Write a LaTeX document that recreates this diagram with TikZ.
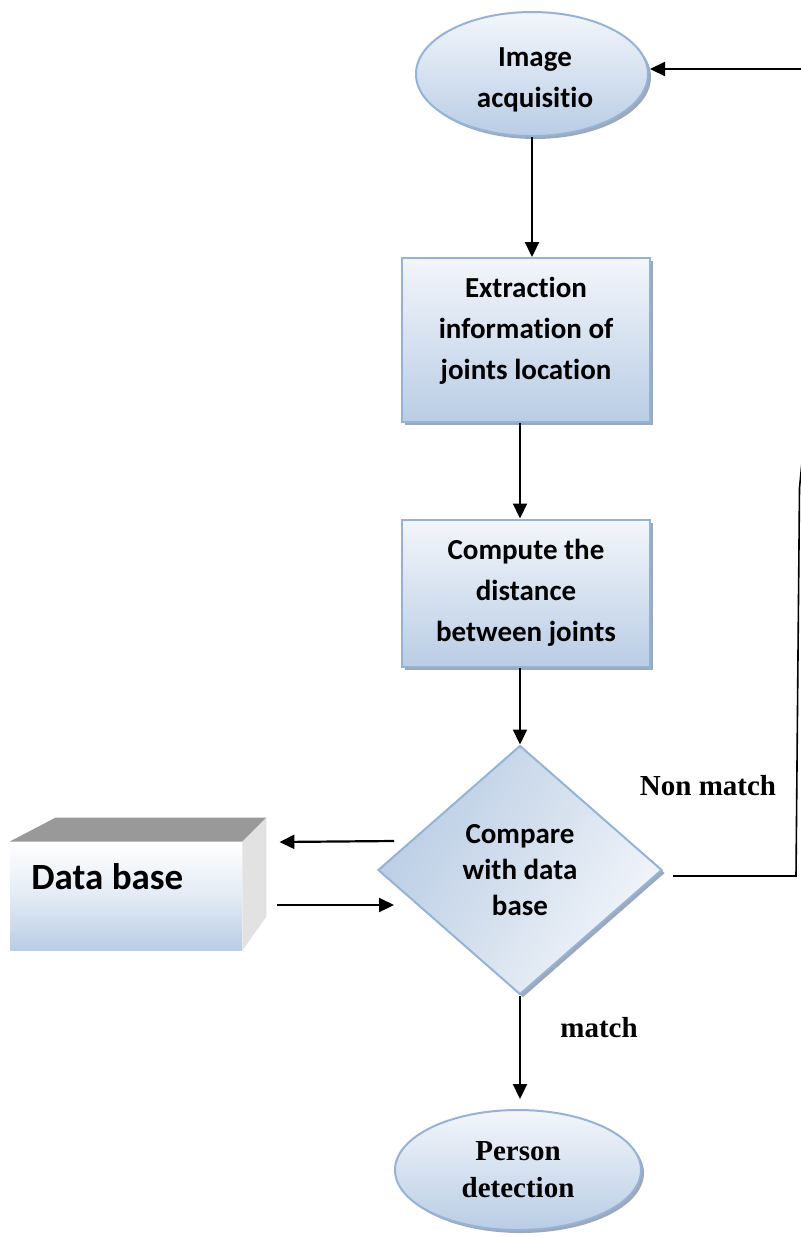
\documentclass[tikz,border=0pt]{standalone}
\usepackage{fontspec}
\newfontfamily\calfont[Ligatures={NoCommon,NoRequired,NoContextual}]{Carlito}
\newfontfamily\tmsfont{Liberation Serif}
\usetikzlibrary{shapes.geometric,shadows,arrows.meta,calc}
\definecolor{edgeblue}{HTML}{95B3D7}
\definecolor{lightfill}{HTML}{F3F6FB}
\definecolor{darkfill}{HTML}{B9CDE5}
\definecolor{midfill}{HTML}{D5E0EE}
\definecolor{shadowc}{HTML}{8C9AAE}
\definecolor{topgray}{HTML}{999999}
\definecolor{sidegray}{HTML}{E2E2E2}
\begin{document}
\begin{tikzpicture}[x=0.5pt,y=-0.5pt,
  shapebase/.style={draw=edgeblue, line width=1pt, top color=lightfill, bottom color=darkfill,
    drop shadow={shadow xshift=1.5pt, shadow yshift=-1.5pt, fill=shadowc, opacity=0.85}},
  ovalbox/.style={shapebase, ellipse, inner sep=0pt},
  procbox/.style={shapebase, rectangle, inner sep=0pt},
  decbox/.style={shapebase, diamond, inner sep=0pt, left color=darkfill, right color=lightfill, middle color=midfill, shading angle=60},
  boxtext/.style={font=\calfont\bfseries\fontsize{14.5}{20.5}\selectfont, align=center, inner sep=0pt},
  serifbold/.style={font=\tmsfont\bfseries\fontsize{14.5}{18.5}\selectfont, align=center, inner sep=0pt},
  arr/.style={-{Triangle[length=7.5pt,width=7pt]}, line width=1.1pt},
  thinline/.style={line width=0.8pt}
]
\fill[white] (0,0) rectangle (800,1237);
\useasboundingbox (0,0) rectangle (800,1237);

% shapes
\node[ovalbox, minimum width=116pt, minimum height=62pt] (acq) at (532,74) {};
\node[boxtext] (acqt) at (535,80) {Image\\acquisitio};

\node[procbox, minimum width=124pt, minimum height=82pt] (ext) at (526,340) {};
\node[boxtext] (extt) at (526,331) {Extraction\\information of\\joints location};

\node[procbox, boxtext, minimum width=124pt, minimum height=73.5pt] (dist) at (526,593) {Compute the\\distance\\between joints};

\node[decbox, boxtext, font=\calfont\bfseries\fontsize{14.5}{18}\selectfont, minimum width=142pt, minimum height=124.5pt] (cmp) at (520,870) {Compare\\with data\\base};

\node[ovalbox, serifbold, minimum width=123pt, minimum height=60pt] (pd) at (518,1170) {Person\\detection};

% database box
\node[rectangle, inner sep=0pt, minimum width=116pt, minimum height=54pt,
      top color=white, bottom color=darkfill, middle color=white!60!darkfill] (db) at (126,896) {};
\fill[topgray] (db.north west) -- ++(46,-24) -- ($(db.north east)+(24,-24)$) -- (db.north east) -- cycle;
\fill[sidegray] (db.north east) -- ++(24,-24) -- ++(0,99) -- (db.south east) -- cycle;
\node[anchor=west, inner sep=0pt, font=\calfont\bfseries\fontsize{18.5}{22}\selectfont] (dbt) at (31,877) {Data base};

% connectors
\draw[arr] (acq.south) -- (acq.south |- ext.north);
\draw[arr] (ext.south -| cmp.north) -- (dist.north -| cmp.north);
\draw[arr] (dist.south -| cmp.north) -- (cmp.north);
\draw[arr, shorten >=5pt] (cmp.south) -- (cmp.south |- pd.north);

\draw[arr] ($(cmp.west)+(17,-29)$) -- ($(db.east)+(37,-54)$);
\draw[arr] ($(db.east)+(35,9)$) -- ($(cmp.west)+(17,35)$);

\coordinate (fb1) at (796,876);
\coordinate (fb2) at (799.5,488);
\coordinate (fb3) at (840,69);
\draw[thinline] ($(cmp.east)+(10,6)$) -- (fb1) -- (fb2) -- (fb3);
\draw[arr] (fb3) -- ($(acq.east)+(1,-5)$);

% labels
\node[serifbold] (nm) at (708,786) {Non match};
\node[serifbold] (mt) at (599,1028) {match};
\end{tikzpicture}
\end{document}
